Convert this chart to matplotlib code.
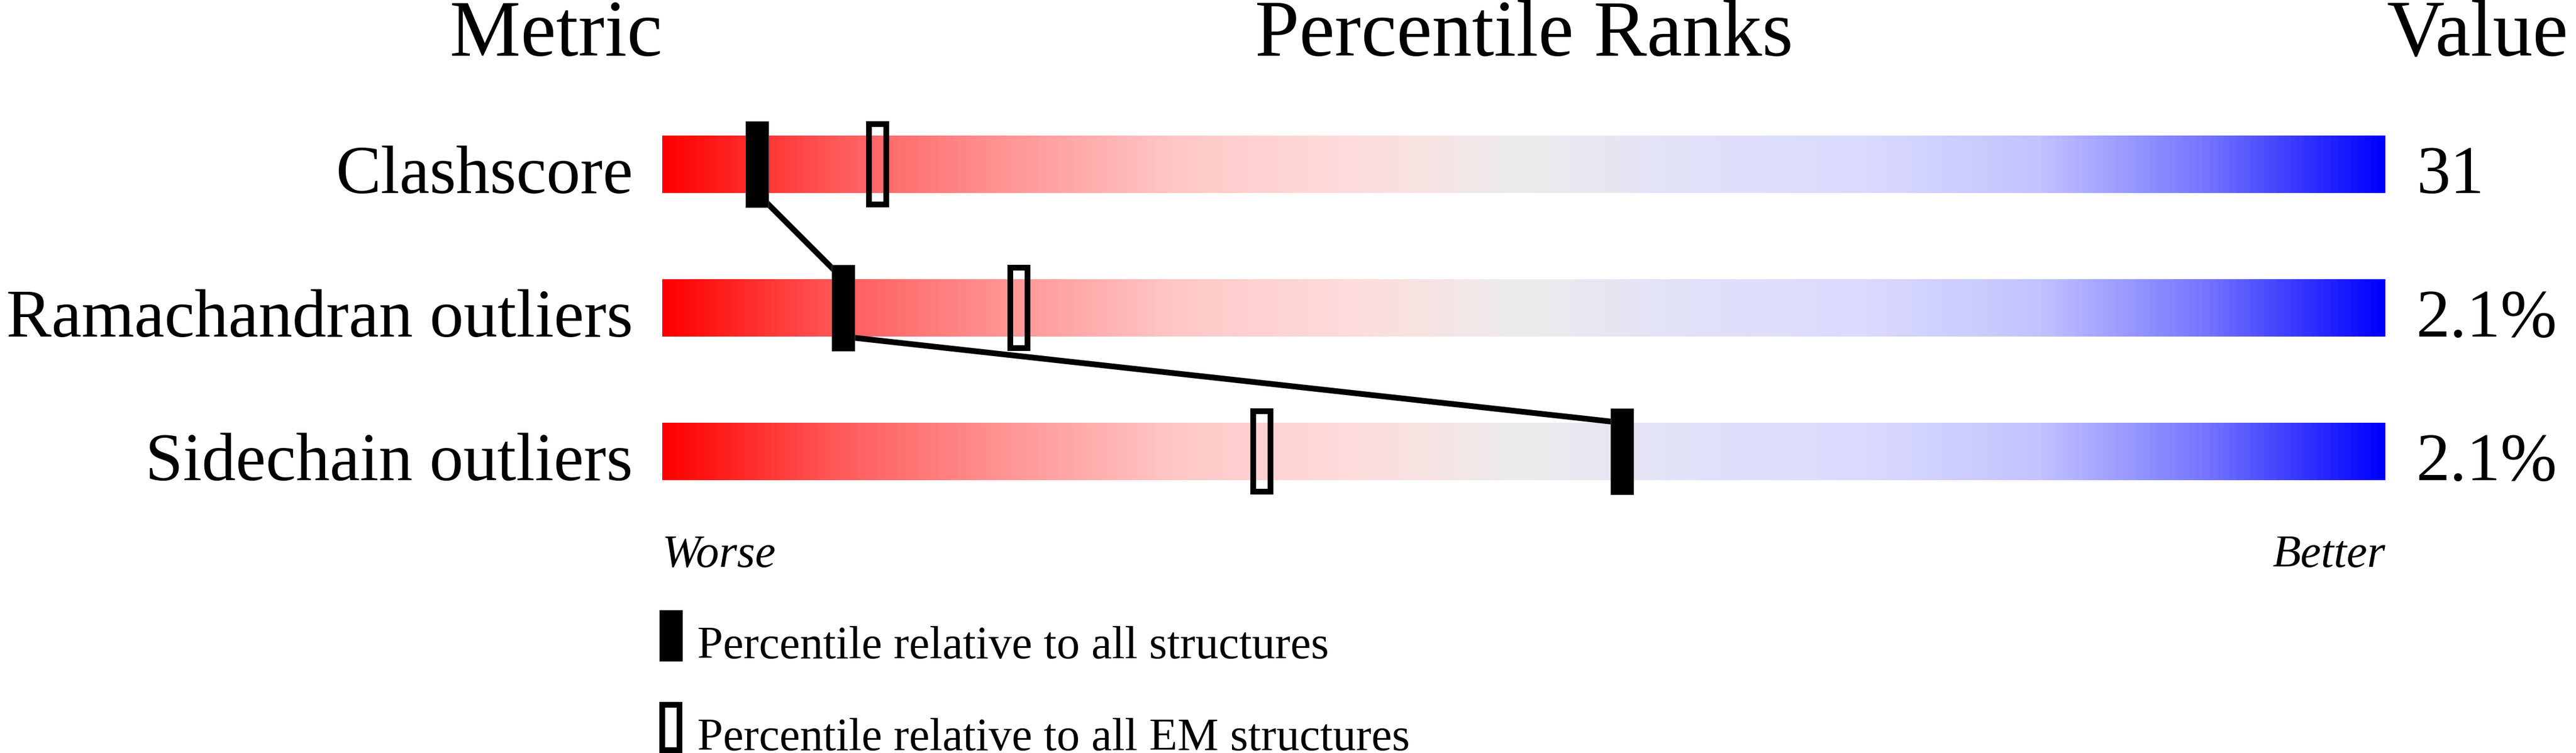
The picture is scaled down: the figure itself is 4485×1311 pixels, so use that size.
#!/usr/bin/env python3
"""Percentile-rank slider chart (validation summary style)."""

import matplotlib

matplotlib.use("Agg")

import matplotlib.pyplot as plt
import numpy as np
from matplotlib.colors import LinearSegmentedColormap
from matplotlib.patches import Rectangle

# data
metrics = ["Clashscore", "Ramachandran outliers", "Sidechain outliers"]
values = ["31", "2.1%", "2.1%"]
pct_all = [5.5, 10.5, 55.7]   # percentile relative to all structures
pct_em = [12.5, 20.7, 34.8]   # percentile relative to all EM structures
legend_labels = ["Percentile relative to all structures",
                 "Percentile relative to all EM structures"]

# styling
W, H, DPI = 4485, 1311, 100
BAR_LEFT, BAR_W = 1153, 3000
ROW0, ROW_STEP = 286, 250
FONT = "Liberation Serif"
GRAD_STOPS = [
    (0.00, (255, 0, 0)),
    (0.10, (255, 90, 90)),
    (0.20, (255, 150, 150)),
    (0.30, (255, 200, 200)),
    (0.40, (255, 220, 220)),
    (0.50, (236, 236, 236)),
    (0.60, (225, 225, 250)),
    (0.70, (218, 218, 255)),
    (0.80, (195, 195, 255)),
    (0.90, (115, 115, 255)),
    (1.00, (0, 0, 255)),
]
cmap = LinearSegmentedColormap.from_list(
    "slider", [(p, tuple(c / 255 for c in rgb)) for p, rgb in GRAD_STOPS]
)

px_y = 1.0 / ROW_STEP          # one pixel in row units
px_x = 100.0 / BAR_W           # one pixel in percentile units

fig = plt.figure(figsize=(W / DPI, H / DPI), dpi=DPI)
ax = fig.add_axes([BAR_LEFT / W, 0, BAR_W / W, 1])
ax.set_xlim(0, 100)
ax.set_ylim((H - ROW0) / ROW_STEP, -ROW0 / ROW_STEP)
ax.axis("off")

bar_h = 100 * px_y
mark_h = 150 * px_y
mark_w = 40 * px_x
lw_px = 10 * 72 / DPI
grad = np.linspace(0, 1, 1000).reshape(1, -1)

for i, (name, val) in enumerate(zip(metrics, values)):
    ax.imshow(grad, cmap=cmap, aspect="auto", interpolation="bilinear",
              extent=[0, 100, i + bar_h / 2, i - bar_h / 2], zorder=1)
    ax.text(-51 * px_x, i + bar_h / 2, name, ha="right", va="baseline",
            fontsize=85, family=FONT, clip_on=False)
    ax.text(101.8, i + bar_h / 2, val, ha="left", va="baseline",
            fontsize=85, family=FONT, clip_on=False)

# line joining the "all structures" markers
for i in range(len(pct_all) - 1):
    ax.plot([pct_all[i], pct_all[i + 1]], [i + bar_h / 2, i + 1 - bar_h / 2],
            color="black", linewidth=lw_px, solid_capstyle="butt", zorder=2)

for i, (pa, pe) in enumerate(zip(pct_all, pct_em)):
    ax.add_patch(Rectangle((pe - (mark_w - 10 * px_x) / 2, i - (mark_h - 10 * px_y) / 2),
                           mark_w - 10 * px_x, mark_h - 10 * px_y,
                           facecolor="none", edgecolor="black", linewidth=lw_px,
                           zorder=3))
    ax.add_patch(Rectangle((pa - mark_w / 2, i - mark_h / 2), mark_w, mark_h,
                           facecolor="black", edgecolor="#555555", linewidth=0.5,
                           zorder=4))

# headers
head_y = (97 - ROW0) / ROW_STEP
ax.text(0, head_y, "Metric", ha="right", va="baseline", fontsize=100, family=FONT, clip_on=False)
ax.text(50, head_y, "Percentile Ranks", ha="center", va="baseline", fontsize=100, family=FONT, clip_on=False)
ax.text(100.07, head_y, "Value", ha="left", va="baseline", fontsize=100, family=FONT, clip_on=False)

# worse / better
wb_y = (987 - ROW0) / ROW_STEP
ax.text(0, wb_y, "Worse", ha="left", va="baseline", fontsize=58, family=FONT,
        style="italic", clip_on=False)
ax.text(100, wb_y, "Better", ha="right", va="baseline", fontsize=58, family=FONT,
        style="italic", clip_on=False)

# legend
leg_tops = [(1062 - ROW0) / ROW_STEP, (1222 - ROW0) / ROW_STEP]
leg_h = 89 * px_y
for k, (top, label) in enumerate(zip(leg_tops, legend_labels)):
    if k == 0:
        ax.add_patch(Rectangle((0.5 - mark_w / 2, top), mark_w, leg_h,
                               facecolor="black", edgecolor="#555555", linewidth=0.5,
                               clip_on=False, zorder=4))
    else:
        ax.add_patch(Rectangle((0.5 - (mark_w - 10 * px_x) / 2, top + 5 * px_y),
                               mark_w - 10 * px_x, leg_h - 10 * px_y,
                               facecolor="none", edgecolor="black", linewidth=lw_px,
                               clip_on=False, zorder=4))
    ax.text(2.03, top + 84 * px_y, label, ha="left", va="baseline", fontsize=58,
            family=FONT, clip_on=False)

fig.savefig("out.png", dpi=DPI)
plt.close(fig)
